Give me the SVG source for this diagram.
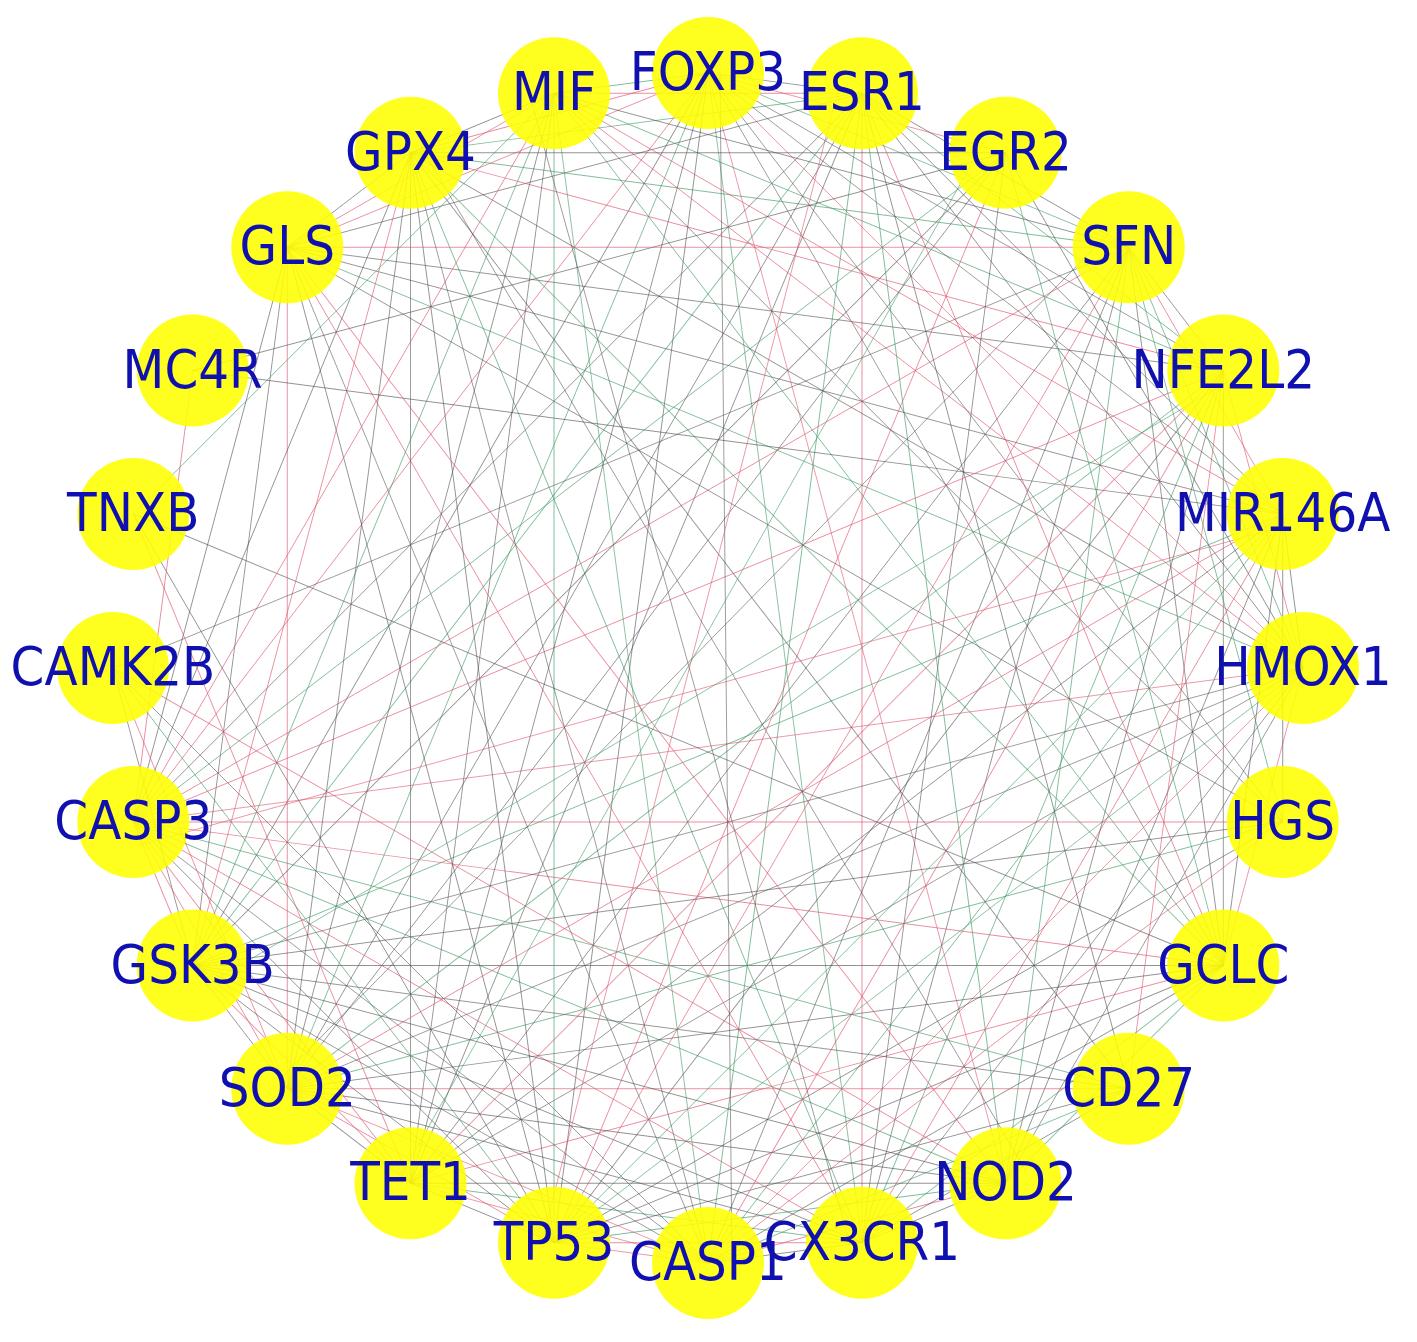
<svg xmlns="http://www.w3.org/2000/svg" width="1417" height="1342" viewBox="0 0 1417 1342">
<style>
.e{fill:none;stroke-width:.9}
.g{stroke:#4a4a4a;stroke-opacity:.6}
.r{stroke:#e0506a;stroke-opacity:.65}
.n{stroke:#3d9a62;stroke-opacity:.65}
.node circle{fill:#ffff00;fill-opacity:.88}
.node text{font-family:"DejaVu Sans",sans-serif;font-size:48.5px;fill:#1010b0;text-anchor:middle}
</style>
<defs>
<line id="k1" x1="0" y1="-595" x2="154" y2="-574.7"/>
<line id="k2" x1="0" y1="-595" x2="297.5" y2="-515.3"/>
<line id="k3" x1="0" y1="-595" x2="420.7" y2="-420.7"/>
<line id="k4" x1="0" y1="-595" x2="515.3" y2="-297.5"/>
<line id="k5" x1="0" y1="-595" x2="574.7" y2="-154"/>
<line id="k6" x1="0" y1="-595" x2="595" y2="0"/>
<line id="k7" x1="0" y1="-595" x2="574.7" y2="154"/>
<line id="k8" x1="0" y1="-595" x2="515.3" y2="297.5"/>
<line id="k9" x1="0" y1="-595" x2="420.7" y2="420.7"/>
<line id="k10" x1="0" y1="-595" x2="297.5" y2="515.3"/>
<line id="k11" x1="0" y1="-595" x2="154" y2="574.7"/>
</defs>
<rect width="1417" height="1342" fill="#ffffff"/>
<g id="connectors" class="e">
<g transform="translate(708 668)">
<use href="#k1" class="g" transform="rotate(0)"/>
<use href="#k3" class="n" transform="rotate(0)"/>
<use href="#k4" class="g" transform="rotate(0)"/>
<use href="#k6" class="r" transform="rotate(0)"/>
<use href="#k8" class="g" transform="rotate(0)"/>
<use href="#k10" class="r" transform="rotate(0)"/>
<use href="#k11" class="n" transform="rotate(0)"/>
<use href="#k11" class="g" transform="rotate(195)"/>
<use href="#k9" class="n" transform="rotate(225)"/>
<use href="#k8" class="g" transform="rotate(240)"/>
<use href="#k7" class="r" transform="rotate(255)"/>
<use href="#k2" class="r" transform="rotate(330)"/>
<use href="#k1" class="n" transform="rotate(345)"/>
<use href="#k3" class="n" transform="rotate(15)"/>
<use href="#k4" class="g" transform="rotate(15)"/>
<use href="#k5" class="g" transform="rotate(15)"/>
<use href="#k10" class="r" transform="rotate(15)"/>
<use href="#k11" class="n" transform="rotate(15)"/>
<use href="#k11" class="g" transform="rotate(210)"/>
<use href="#k9" class="n" transform="rotate(240)"/>
<use href="#k8" class="g" transform="rotate(255)"/>
<use href="#k4" class="g" transform="rotate(315)"/>
<use href="#k2" class="r" transform="rotate(345)"/>
<use href="#k1" class="g" transform="rotate(45)"/>
<use href="#k2" class="r" transform="rotate(45)"/>
<use href="#k3" class="n" transform="rotate(45)"/>
<use href="#k5" class="g" transform="rotate(45)"/>
<use href="#k7" class="n" transform="rotate(45)"/>
<use href="#k8" class="g" transform="rotate(45)"/>
<use href="#k9" class="g" transform="rotate(45)"/>
<use href="#k10" class="r" transform="rotate(45)"/>
<use href="#k10" class="r" transform="rotate(255)"/>
<use href="#k5" class="n" transform="rotate(330)"/>
<use href="#k2" class="r" transform="rotate(60)"/>
<use href="#k4" class="g" transform="rotate(60)"/>
<use href="#k7" class="n" transform="rotate(60)"/>
<use href="#k9" class="g" transform="rotate(60)"/>
<use href="#k10" class="r" transform="rotate(60)"/>
<use href="#k11" class="n" transform="rotate(60)"/>
<use href="#k7" class="g" transform="rotate(315)"/>
<use href="#k6" class="r" transform="rotate(330)"/>
<use href="#k5" class="n" transform="rotate(345)"/>
<use href="#k5" class="g" transform="rotate(75)"/>
<use href="#k6" class="r" transform="rotate(75)"/>
<use href="#k7" class="n" transform="rotate(75)"/>
<use href="#k9" class="g" transform="rotate(75)"/>
<use href="#k11" class="n" transform="rotate(75)"/>
<use href="#k8" class="g" transform="rotate(315)"/>
<use href="#k6" class="r" transform="rotate(345)"/>
<use href="#k2" class="r" transform="rotate(90)"/>
<use href="#k4" class="g" transform="rotate(90)"/>
<use href="#k6" class="r" transform="rotate(90)"/>
<use href="#k7" class="n" transform="rotate(90)"/>
<use href="#k8" class="g" transform="rotate(90)"/>
<use href="#k9" class="g" transform="rotate(90)"/>
<use href="#k11" class="r" transform="rotate(90)"/>
<use href="#k9" class="n" transform="rotate(315)"/>
<use href="#k8" class="g" transform="rotate(330)"/>
<use href="#k3" class="n" transform="rotate(120)"/>
<use href="#k4" class="g" transform="rotate(120)"/>
<use href="#k5" class="g" transform="rotate(120)"/>
<use href="#k6" class="r" transform="rotate(120)"/>
<use href="#k8" class="g" transform="rotate(120)"/>
<use href="#k9" class="r" transform="rotate(120)"/>
<use href="#k11" class="g" transform="rotate(120)"/>
<use href="#k9" class="n" transform="rotate(345)"/>
<use href="#k1" class="g" transform="rotate(150)"/>
<use href="#k2" class="r" transform="rotate(150)"/>
<use href="#k3" class="n" transform="rotate(150)"/>
<use href="#k5" class="g" transform="rotate(150)"/>
<use href="#k7" class="n" transform="rotate(150)"/>
<use href="#k2" class="r" transform="rotate(165)"/>
<use href="#k3" class="n" transform="rotate(165)"/>
<use href="#k4" class="g" transform="rotate(165)"/>
<use href="#k5" class="g" transform="rotate(165)"/>
<use href="#k10" class="r" transform="rotate(165)"/>
<use href="#k11" class="n" transform="rotate(165)"/>
<use href="#k2" class="r" transform="rotate(180)"/>
<use href="#k4" class="g" transform="rotate(180)"/>
<use href="#k5" class="g" transform="rotate(180)"/>
<use href="#k9" class="g" transform="rotate(180)"/>
<use href="#k11" class="n" transform="rotate(180)"/>
<use href="#k1" class="g" transform="rotate(195)"/>
<use href="#k2" class="r" transform="rotate(195)"/>
<use href="#k4" class="g" transform="rotate(195)"/>
<use href="#k8" class="g" transform="rotate(195)"/>
<use href="#k9" class="g" transform="rotate(195)"/>
<use href="#k1" class="g" transform="rotate(210)"/>
<use href="#k2" class="r" transform="rotate(210)"/>
<use href="#k3" class="r" transform="rotate(210)"/>
<use href="#k8" class="g" transform="rotate(210)"/>
<use href="#k9" class="g" transform="rotate(210)"/>
<use href="#k1" class="g" transform="rotate(225)"/>
<use href="#k6" class="r" transform="rotate(225)"/>
<use href="#k8" class="g" transform="rotate(225)"/>
<use href="#k1" class="r" transform="rotate(240)"/>
<use href="#k5" class="g" transform="rotate(240)"/>
<use href="#k6" class="r" transform="rotate(240)"/>
<use href="#k7" class="n" transform="rotate(240)"/>
<use href="#k4" class="g" transform="rotate(255)"/>
<use href="#k5" class="g" transform="rotate(255)"/>
<use href="#k6" class="r" transform="rotate(255)"/>
<use href="#k1" class="g" transform="rotate(315)"/>
<use href="#k2" class="r" transform="rotate(315)"/>
<use href="#k1" class="g" transform="rotate(330)"/>
<use href="#k2" class="r" transform="rotate(0)"/>
<use href="#k4" class="g" transform="rotate(30)"/>
<use href="#k6" class="n" transform="rotate(30)"/>
<use href="#k9" class="g" transform="rotate(30)"/>
<use href="#k11" class="r" transform="rotate(30)"/>
<use href="#k11" class="g" transform="rotate(225)"/>
<use href="#k10" class="g" transform="rotate(240)"/>
<use href="#k9" class="n" transform="rotate(255)"/>
<use href="#k6" class="g" transform="rotate(300)"/>
<use href="#k4" class="g" transform="rotate(330)"/>
<use href="#k7" class="g" transform="rotate(0)"/>
<use href="#k4" class="n" transform="rotate(45)"/>
<use href="#k2" class="g" transform="rotate(75)"/>
<use href="#k5" class="r" transform="rotate(105)"/>
<use href="#k6" class="g" transform="rotate(105)"/>
<use href="#k8" class="n" transform="rotate(105)"/>
<use href="#k9" class="g" transform="rotate(105)"/>
<use href="#k10" class="r" transform="rotate(105)"/>
<use href="#k10" class="g" transform="rotate(315)"/>
<use href="#k8" class="g" transform="rotate(345)"/>
<use href="#k8" class="g" transform="rotate(15)"/>
<use href="#k5" class="r" transform="rotate(60)"/>
<use href="#k2" class="g" transform="rotate(135)"/>
<use href="#k3" class="n" transform="rotate(135)"/>
<use href="#k4" class="g" transform="rotate(135)"/>
<use href="#k6" class="r" transform="rotate(135)"/>
<use href="#k7" class="g" transform="rotate(135)"/>
<use href="#k8" class="n" transform="rotate(135)"/>
<use href="#k11" class="g" transform="rotate(330)"/>
<use href="#k9" class="g" transform="rotate(270)"/>
<use href="#k8" class="r" transform="rotate(150)"/>
<use href="#k6" class="g" transform="rotate(180)"/>
<use href="#k5" class="n" transform="rotate(195)"/>
<use href="#k3" class="r" transform="rotate(225)"/>
<use href="#k2" class="g" transform="rotate(240)"/>
<use href="#k6" class="g" transform="rotate(195)"/>
<use href="#k5" class="r" transform="rotate(210)"/>
<use href="#k4" class="n" transform="rotate(285)"/>
<use href="#k9" class="g" transform="rotate(300)"/>
<use href="#k3" class="r" transform="rotate(255)"/>
<use href="#k5" class="g" transform="rotate(0)"/>
<use href="#k7" class="r" transform="rotate(15)"/>
<use href="#k10" class="g" transform="rotate(225)"/>
<use href="#k3" class="n" transform="rotate(330)"/>
<use href="#k11" class="g" transform="rotate(45)"/>
<use href="#k6" class="r" transform="rotate(315)"/>
<use href="#k6" class="g" transform="rotate(60)"/>
<use href="#k11" class="r" transform="rotate(255)"/>
<use href="#k1" class="g" transform="rotate(75)"/>
<use href="#k8" class="n" transform="rotate(75)"/>
<use href="#k10" class="g" transform="rotate(90)"/>
<use href="#k7" class="r" transform="rotate(345)"/>
<use href="#k7" class="g" transform="rotate(120)"/>
<use href="#k10" class="n" transform="rotate(330)"/>
<use href="#k4" class="g" transform="rotate(150)"/>
<use href="#k11" class="r" transform="rotate(150)"/>
<use href="#k6" class="r" transform="rotate(165)"/>
<use href="#k1" class="r" transform="rotate(180)"/>
<use href="#k3" class="g" transform="rotate(195)"/>
<use href="#k10" class="n" transform="rotate(195)"/>
<use href="#k7" class="g" transform="rotate(225)"/>
<use href="#k10" class="g" transform="rotate(210)"/>
<use href="#k3" class="r" transform="rotate(315)"/>
<use href="#k2" class="g" transform="rotate(15)"/>
<use href="#k9" class="n" transform="rotate(15)"/>
<use href="#k4" class="g" transform="rotate(345)"/>
<use href="#k8" class="r" transform="rotate(60)"/>
<use href="#k3" class="g" transform="rotate(75)"/>
<use href="#k10" class="r" transform="rotate(75)"/>
<use href="#k5" class="g" transform="rotate(90)"/>
<use href="#k2" class="n" transform="rotate(120)"/>
<use href="#k6" class="g" transform="rotate(150)"/>
<use href="#k1" class="g" transform="rotate(165)"/>
<use href="#k3" class="r" transform="rotate(180)"/>
<use href="#k10" class="g" transform="rotate(180)"/>
<use href="#k2" class="r" transform="rotate(225)"/>
</g>
<path class="g" d="M720 73L732 1263"/>
<path class="r" d="M838.8 87.1L542.4 1239.6"/>
<path class="g" d="M1111.7 230.3L278.8 1080.2"/>
<path class="n" d="M1229.3 380.9L204.7 986.3"/>
<path class="r" d="M1285.8 525.6L139.5 845.2"/>
<path class="g" d="M1026.3 1171.3L420.9 146.7"/>
<path class="g" d="M850.4 1245.8L530.8 99.5"/>
<path class="n" d="M984.7 140.7L400.1 1177.3"/>
</g>
<g id="nodes">
<g id="node-FOXP3" class="node"><circle cx="708" cy="73" r="56"/><text transform="translate(708 90) scale(1 1.1)">FOXP3</text></g>
<g id="node-ESR1" class="node"><circle cx="862" cy="93.3" r="56"/><text transform="translate(862 110.3) scale(1 1.1)">ESR1</text></g>
<g id="node-EGR2" class="node"><circle cx="1005.5" cy="152.7" r="56"/><text transform="translate(1005.5 169.7) scale(1 1.1)">EGR2</text></g>
<g id="node-SFN" class="node"><circle cx="1128.7" cy="247.3" r="56"/><text transform="translate(1128.7 264.3) scale(1 1.1)">SFN</text></g>
<g id="node-NFE2L2" class="node"><circle cx="1223.3" cy="370.5" r="56"/><text transform="translate(1223.3 387.5) scale(1 1.1)">NFE2L2</text></g>
<g id="node-MIR146A" class="node"><circle cx="1282.7" cy="514" r="56"/><text transform="translate(1282.7 531) scale(1 1.1)">MIR146A</text></g>
<g id="node-HMOX1" class="node"><circle cx="1303" cy="668" r="56"/><text transform="translate(1303 685) scale(1 1.1)">HMOX1</text></g>
<g id="node-HGS" class="node"><circle cx="1282.7" cy="822" r="56"/><text transform="translate(1282.7 839) scale(1 1.1)">HGS</text></g>
<g id="node-GCLC" class="node"><circle cx="1223.3" cy="965.5" r="56"/><text transform="translate(1223.3 982.5) scale(1 1.1)">GCLC</text></g>
<g id="node-CD27" class="node"><circle cx="1128.7" cy="1088.7" r="56"/><text transform="translate(1128.7 1105.7) scale(1 1.1)">CD27</text></g>
<g id="node-NOD2" class="node"><circle cx="1005.5" cy="1183.3" r="56"/><text transform="translate(1005.5 1200.3) scale(1 1.1)">NOD2</text></g>
<g id="node-TP53" class="node"><circle cx="554" cy="1242.7" r="56"/><text transform="translate(554 1259.7) scale(1 1.1)">TP53</text></g>
<g id="node-CX3CR1" class="node"><circle cx="862" cy="1242.7" r="56"/><text transform="translate(862 1259.7) scale(1 1.1)">CX3CR1</text></g>
<g id="node-CASP1" class="node"><circle cx="708" cy="1263" r="56"/><text transform="translate(708 1280) scale(1 1.1)">CASP1</text></g>
<g id="node-TET1" class="node"><circle cx="410.5" cy="1183.3" r="56"/><text transform="translate(410.5 1200.3) scale(1 1.1)">TET1</text></g>
<g id="node-SOD2" class="node"><circle cx="287.3" cy="1088.7" r="56"/><text transform="translate(287.3 1105.7) scale(1 1.1)">SOD2</text></g>
<g id="node-GSK3B" class="node"><circle cx="192.7" cy="965.5" r="56"/><text transform="translate(192.7 982.5) scale(1 1.1)">GSK3B</text></g>
<g id="node-CASP3" class="node"><circle cx="133.3" cy="822" r="56"/><text transform="translate(133.3 839) scale(1 1.1)">CASP3</text></g>
<g id="node-CAMK2B" class="node"><circle cx="113" cy="668" r="56"/><text transform="translate(113 685) scale(1 1.1)">CAMK2B</text></g>
<g id="node-TNXB" class="node"><circle cx="133.3" cy="514" r="56"/><text transform="translate(133.3 531) scale(1 1.1)">TNXB</text></g>
<g id="node-MC4R" class="node"><circle cx="192.7" cy="370.5" r="56"/><text transform="translate(192.7 387.5) scale(1 1.1)">MC4R</text></g>
<g id="node-GLS" class="node"><circle cx="287.3" cy="247.3" r="56"/><text transform="translate(287.3 264.3) scale(1 1.1)">GLS</text></g>
<g id="node-GPX4" class="node"><circle cx="410.5" cy="152.7" r="56"/><text transform="translate(410.5 169.7) scale(1 1.1)">GPX4</text></g>
<g id="node-MIF" class="node"><circle cx="554" cy="93.3" r="56"/><text transform="translate(554 110.3) scale(1 1.1)">MIF</text></g>
</g>
</svg>
